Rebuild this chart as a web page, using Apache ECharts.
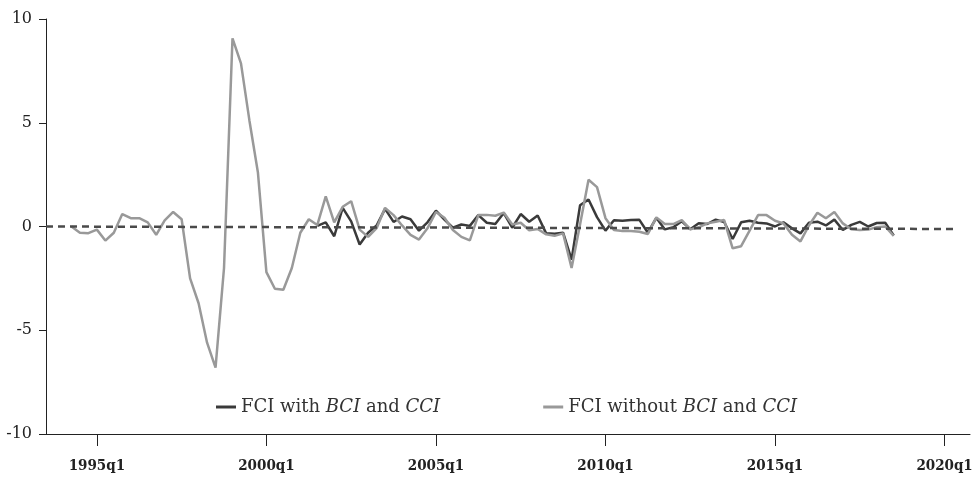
<!DOCTYPE html>
<html>
<head>
    <meta charset="UTF-8">
    <title>FCI</title>
    <script src="https://cdn.jsdelivr.net/npm/echarts@6/dist/echarts.min.js"></script>
    <style>
        *{margin:0;padding:0}
        html, body{ width:100%; height:100%; background:#fff; }
        #main{ width:972px; height:485px; }
    </style>
</head>
<body>
    <div id="main"></div>
    <script type="text/javascript">
        // quarters shown on the axis: 1993q3 .. 2020q4
        var firstYear = 1993, firstQ = 3, nQuarters = 110;
        var quarters = [];
        for (var i = 0; i < nQuarters; i++) {
            var q = firstQ - 1 + i;
            quarters.push((firstYear + Math.floor(q / 4)) + 'q' + (q % 4 + 1));
        }
        var yTicks = [-10, -5, 0, 5, 10];

        // FCI without BCI and CCI, from 1994q2
        var withoutStart = '1994q2';
        var fciWithout = [
            0, -0.3, -0.32, -0.15, -0.68, -0.3, 0.6, 0.4, 0.4, 0.2,
            -0.4, 0.3, 0.7, 0.35, -2.5, -3.7, -5.6, -6.8, -2.0, 9.07,
            7.86, 5.1, 2.6, -2.2, -3.0, -3.05, -2.0, -0.3, 0.35, 0.07,
            1.45, 0.2, 0.95, 1.22, -0.15, -0.5, -0.08, 0.9, 0.55, 0.05,
            -0.4, -0.63, -0.09, 0.7, 0.42, -0.17, -0.5, -0.67, 0.55, 0.56,
            0.52, 0.67, 0.1, 0.18, -0.18, -0.12, -0.38, -0.45, -0.33, -2.0,
            0.1, 2.25, 1.9, 0.4, -0.17, -0.22, -0.22, -0.25, -0.36, 0.44,
            0.12, 0.12, 0.31, -0.14, -0.04, 0.15, 0.23, 0.31, -1.05, -0.95,
            -0.2, 0.55, 0.55, 0.28, 0.15, -0.4, -0.72, 0.05, 0.66, 0.4,
            0.7, 0.15, -0.13, -0.17, -0.15, -0.03, 0.0, -0.45
        ];

        // FCI with BCI and CCI, from 2001q3
        var withStart = '2001q3';
        var fciWith = [
            0.03, 0.2, -0.47, 0.9, 0.25, -0.87, -0.3, 0.05, 0.85, 0.22,
            0.48, 0.35, -0.2, 0.2, 0.76, 0.33, -0.06, 0.1, 0.03, 0.55,
            0.18, 0.12, 0.65, -0.06, 0.6, 0.23, 0.53, -0.33, -0.35, -0.3,
            -1.6, 1.02, 1.3, 0.45, -0.2, 0.3, 0.28, 0.31, 0.32, -0.3,
            0.42, -0.14, -0.04, 0.25, -0.13, 0.16, 0.12, 0.33, 0.22, -0.6,
            0.2, 0.28, 0.18, 0.15, 0.0, 0.2, -0.09, -0.33, 0.18, 0.23,
            0.05, 0.33, -0.17, 0.08, 0.22, 0.0, 0.17, 0.18, -0.43
        ];

        // dashed reference line end points
        var refLine = [['1993q3', 0], ['2020q2', -0.12]];

        function pairs(start, values) {
            var s = quarters.indexOf(start);
            return values.map(function (v, i) { return [quarters[s + i], v]; });
        }
        function isMajor(index, value) {
            var y = parseInt(value, 10);
            return /q1$/.test(value) && y % 5 === 0;
        }

        var serif = 'DejaVu Serif';
        var myChart = echarts.init(document.getElementById('main'));
        var option = {
            animation: false,
            backgroundColor: '#fff',
            grid: { left: 46, right: 2, top: 19, bottom: 51, outerBoundsMode: 'none', containLabel: false },
            legend: {
                left: 211,
                top: 393,
                itemWidth: 20,
                itemHeight: 3,
                itemGap: 103,
                icon: 'rect',
                textStyle: {
                    fontFamily: serif, fontSize: 18, color: '#333',
                    rich: { i: { fontFamily: serif, fontSize: 18, fontStyle: 'italic', color: '#333' } }
                },
                formatter: function (name) {
                    return name.replace(/BCI/, '{i|BCI}').replace(/CCI/, '{i|CCI}');
                },
                data: ['FCI with BCI and CCI', 'FCI without BCI and CCI']
            },
            xAxis: {
                type: 'category',
                data: quarters,
                boundaryGap: false,
                axisLine: { onZero: false, lineStyle: { color: '#222', width: 1 } },
                axisTick: { interval: isMajor, length: 12, lineStyle: { color: '#222' } },
                axisLabel: {
                    interval: isMajor, margin: 25, hideOverlap: false,
                    fontFamily: "'DejaVu Serif Condensed', 'DejaVu Serif'",
                    fontSize: 15, fontWeight: 'bold', color: '#222'
                },
                splitLine: { show: false }
            },
            yAxis: {
                type: 'value',
                min: yTicks[0],
                max: yTicks[yTicks.length - 1],
                interval: 5,
                axisLine: { show: true, lineStyle: { color: '#222', width: 1 } },
                axisTick: { show: true, length: 7, lineStyle: { color: '#222' } },
                axisLabel: { margin: 14, fontFamily: serif, fontSize: 16, color: '#222' },
                splitLine: { show: false }
            },
            series: [
                {
                    name: 'FCI with BCI and CCI',
                    type: 'line',
                    data: pairs(withStart, fciWith),
                    symbol: 'none',
                    color: '#3a3a3a',
                    lineStyle: { width: 2.5, color: '#3a3a3a' },
                    markLine: {
                        silent: true,
                        symbol: 'none',
                        label: { show: false },
                        lineStyle: { type: [7, 5], width: 2.5, color: '#4a4a4a' },
                        data: [[{ coord: refLine[0] }, { coord: refLine[1] }]]
                    }
                },
                {
                    name: 'FCI without BCI and CCI',
                    type: 'line',
                    data: pairs(withoutStart, fciWithout),
                    symbol: 'none',
                    color: '#999',
                    lineStyle: { width: 2.5, color: '#999' }
                }
            ]
        };
        myChart.setOption(option);
    </script>
</body>
</html>
